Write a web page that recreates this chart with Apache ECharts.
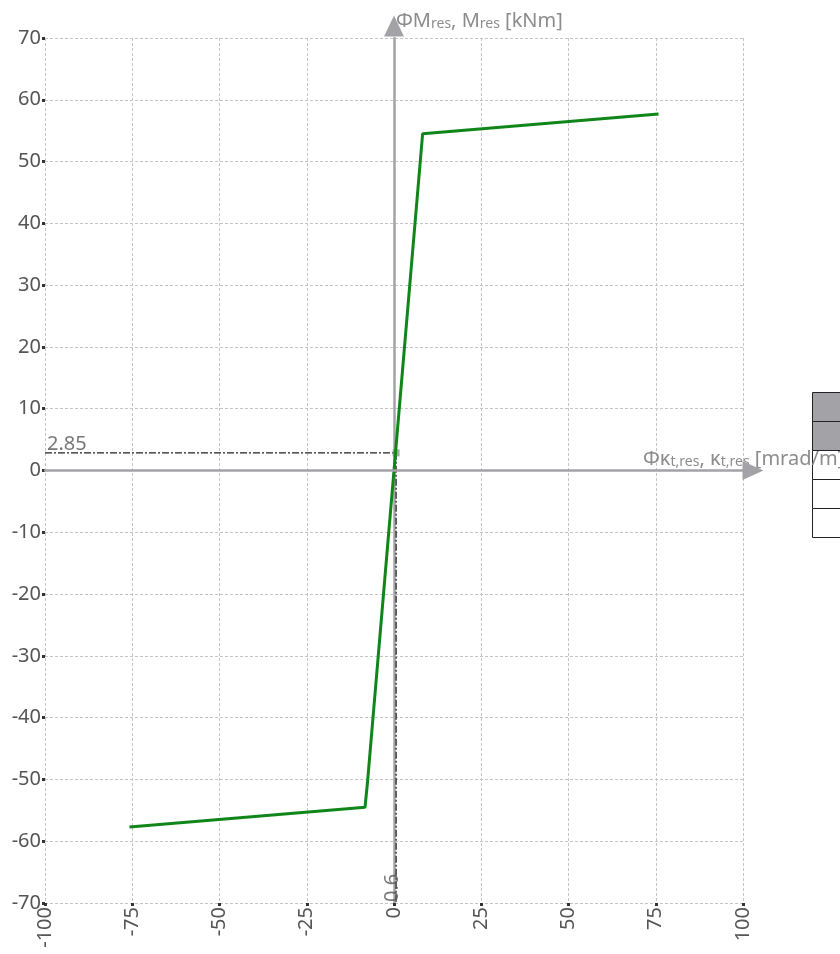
<!DOCTYPE html>
<html>
<head>
<meta charset="utf-8">
<script src="https://cdn.jsdelivr.net/npm/echarts@6/dist/echarts.min.js"></script>
<style>
  html, body { margin: 0; padding: 0; background: #fff; }
  #chart { width: 840px; height: 954px; }
</style>
</head>
<body>
<div id="chart"></div>
<script>
// tick marks of both axes
const xTicks = [-100, -75, -50, -25, 0, 25, 50, 75, 100];
const yTicks = [-70, -60, -50, -40, -30, -20, -10, 0, 10, 20, 30, 40, 50, 60, 70];

// moment-curvature curve
const kappa = [-75.8, -8.3, -7.6, 0, 7.6, 8.2, 75.8];
const moment = [-57.7, -54.5, -50.5, 0, 50.5, 54.5, 57.7];

// marked point
const markKappa = 0.6;
const markMoment = 2.85;

const fontName = '"Noto Sans", "Open Sans", sans-serif';
const axisGray = '#a3a3a7';
const labelColor = '#555';
const nameColor = '#8c8c8c';

let curve = kappa.map(function (k, i) { return [k, moment[i]]; });

let chart = echarts.init(document.getElementById('chart'));

let option = {
    animation: false,
    textStyle: { fontFamily: fontName },
    grid: { left: 45, right: 97, top: 38, bottom: 51, containLabel: false, outerBoundsMode: 'none' },
    xAxis: [
        {
            type: 'value',
            min: xTicks[0],
            max: xTicks[xTicks.length - 1],
            interval: 25,
            position: 'bottom',
            axisLine: { show: false, onZero: false },
            axisTick: { show: true, length: 3, lineStyle: { color: '#333', width: 3 } },
            axisLabel: { rotate: 90, fontSize: 20, color: labelColor, margin: 4, fontFamily: fontName },
            splitLine: { show: true, lineStyle: { color: '#c4c4c4', type: [3, 2], width: 1 } }
        },
        {
            type: 'value',
            z: 10,
            min: xTicks[0],
            max: xTicks[xTicks.length - 1],
            interval: 25,
            axisLine: {
                show: true, onZero: true, onZeroAxisIndex: 0,
                lineStyle: { color: axisGray, width: 2.5 },
                symbol: ['none', 'triangle'],
                symbolSize: [19, 21],
                symbolOffset: [0, 10]
            },
            axisTick: { show: false },
            axisLabel: { show: false },
            splitLine: { show: false },
            name: '{a|Φκ}{s|t,res}{a|, κ}{s|t,res}{a| [mrad/m]}',
            nameLocation: 'end',
            nameGap: -100,
            nameTextStyle: {
                align: 'left',
                verticalAlign: 'bottom',
                padding: [0, 0, 1, 0],
                color: nameColor,
                rich: {
                    a: { fontSize: 20, color: nameColor, verticalAlign: 'bottom', fontFamily: fontName },
                    s: { fontSize: 14, color: nameColor, verticalAlign: 'bottom', fontFamily: fontName }
                }
            }
        }
    ],
    yAxis: [
        {
            type: 'value',
            min: yTicks[0],
            max: yTicks[yTicks.length - 1],
            interval: 10,
            position: 'left',
            axisLine: { show: false, onZero: false },
            axisTick: { show: true, length: 3, lineStyle: { color: '#333', width: 3 } },
            axisLabel: { fontSize: 20, color: labelColor, margin: 4, fontFamily: fontName },
            splitLine: { show: true, lineStyle: { color: '#c4c4c4', type: [3, 2], width: 1 } }
        },
        {
            type: 'value',
            min: yTicks[0],
            max: yTicks[yTicks.length - 1],
            interval: 10,
            axisLine: {
                show: true, onZero: true, onZeroAxisIndex: 0,
                lineStyle: { color: axisGray, width: 2.5 },
                symbol: ['none', 'triangle'],
                symbolSize: [20, 21],
                symbolOffset: [0, 12]
            },
            axisTick: { show: false },
            axisLabel: { show: false },
            splitLine: { show: false },
            name: '{a|ΦM}{s|res}{a|, M}{s|res}{a| [kNm]}',
            nameLocation: 'end',
            nameGap: 7,
            nameTextStyle: {
                align: 'left',
                padding: [0, 0, 0, 2],
                color: nameColor,
                rich: {
                    a: { fontSize: 20, color: nameColor, verticalAlign: 'bottom', fontFamily: fontName },
                    s: { fontSize: 14, color: nameColor, verticalAlign: 'bottom', fontFamily: fontName }
                }
            }
        }
    ],
    series: [
        {
            name: 'guide',
            type: 'line',
            xAxisIndex: 0,
            yAxisIndex: 0,
            symbol: 'none',
            z: 3,
            lineStyle: { color: '#222', width: 1.3, type: [7, 2, 2, 2] },
            data: [[xTicks[0], markMoment], [markKappa, markMoment], [markKappa, yTicks[0]]]
        },
        {
            name: 'guideLabels',
            type: 'scatter',
            xAxisIndex: 0,
            yAxisIndex: 0,
            symbolSize: 0,
            z: 6,
            data: [
                {
                    value: [xTicks[0], markMoment],
                    label: {
                        show: true, formatter: String(markMoment), position: [2, 1],
                        align: 'left', verticalAlign: 'bottom',
                        fontSize: 20, color: labelColor, fontFamily: fontName
                    }
                },
                {
                    value: [markKappa, yTicks[0]],
                    label: {
                        show: true, formatter: String(markKappa), position: [6, -1], rotate: 90,
                        align: 'left', verticalAlign: 'bottom',
                        fontSize: 20, color: labelColor, fontFamily: fontName
                    }
                }
            ]
        },
        {
            name: 'point',
            type: 'scatter',
            xAxisIndex: 0,
            yAxisIndex: 0,
            symbol: 'rect',
            symbolSize: 7,
            z: 4,
            itemStyle: { color: '#8a948a' },
            data: [[markKappa, markMoment]]
        },
        {
            name: 'curve',
            type: 'line',
            xAxisIndex: 0,
            yAxisIndex: 0,
            symbol: 'none',
            z: 5,
            lineStyle: { color: '#10861a', width: 3 },
            data: curve
        }
    ],
    graphic: [
        { type: 'rect', z: 1, shape: { x: 812.5, y: 392.5, width: 60, height: 29 }, style: { fill: '#a3a2a7', stroke: '#222', lineWidth: 1 } },
        { type: 'rect', z: 1, shape: { x: 812.5, y: 421.5, width: 60, height: 29 }, style: { fill: '#a3a2a7', stroke: '#222', lineWidth: 1 } },
        { type: 'rect', z: 1, shape: { x: 812.5, y: 450.5, width: 60, height: 29 }, style: { fill: '#fff', stroke: '#222', lineWidth: 1 } },
        { type: 'rect', z: 1, shape: { x: 812.5, y: 479.5, width: 60, height: 29 }, style: { fill: '#fff', stroke: '#222', lineWidth: 1 } },
        { type: 'rect', z: 1, shape: { x: 812.5, y: 508.5, width: 60, height: 29 }, style: { fill: '#fff', stroke: '#222', lineWidth: 1 } }
    ]
};

chart.setOption(option);
</script>
</body>
</html>
